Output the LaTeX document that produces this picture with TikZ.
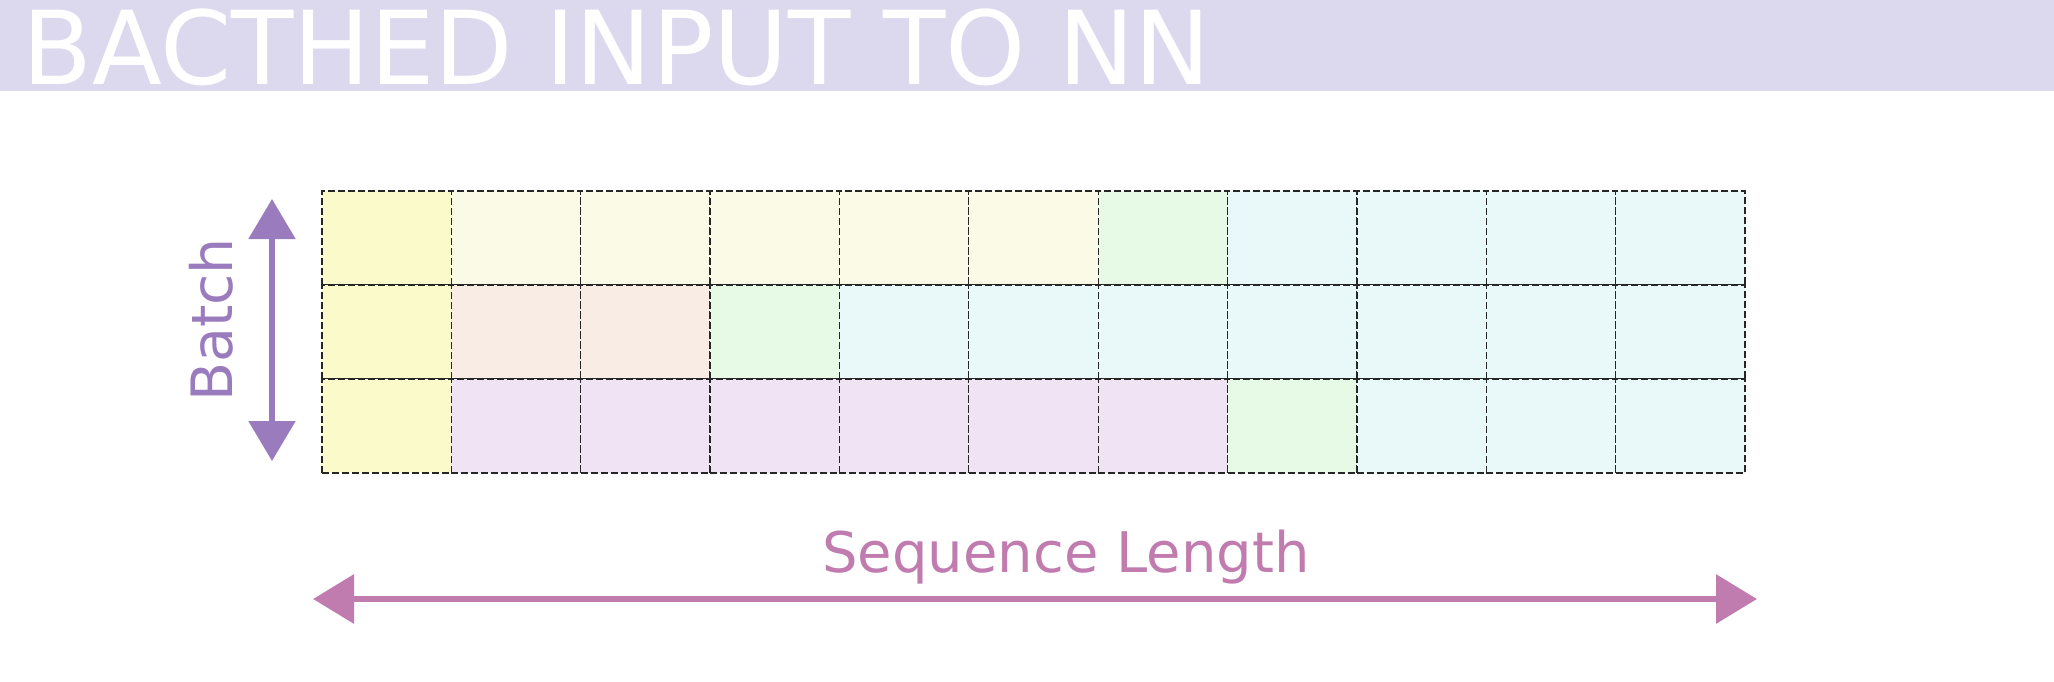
\documentclass[tikz,border=0pt]{standalone}
\usepackage{fontspec}
\setmainfont{DejaVu Sans}
\usetikzlibrary{arrows.meta}
\definecolor{titlebg}{RGB}{220,216,238}
\definecolor{ystrong}{RGB}{250,250,202}
\definecolor{ylight}{RGB}{250,250,230}
\definecolor{cgreen}{RGB}{230,250,230}
\definecolor{ccyan}{RGB}{233,248,248}
\definecolor{cpeach}{RGB}{248,236,228}
\definecolor{cpurple}{RGB}{240,227,243}
\definecolor{batchcol}{RGB}{154,123,189}
\definecolor{seqcol}{RGB}{192,123,175}
\tikzset{
  cell/.style={draw=black!85, dashed, dash pattern=on 7pt off 3pt, line width=1.3pt,
    minimum width=129.36pt, minimum height=94pt, inner sep=0pt, outer sep=0pt},
  batcharrow/.style={draw=batchcol, line width=5.5pt,
    {Triangle[length=40pt,width=46pt]}-{Triangle[length=40pt,width=46pt]}},
  seqarrow/.style={draw=seqcol, line width=6.5pt,
    {Triangle[length=41pt,width=48pt]}-{Triangle[length=41pt,width=48pt]}},
}
\begin{document}
\begin{tikzpicture}[x=1pt,y=-1pt]
\useasboundingbox (0,0) rectangle (2054,681);
\fill[titlebg] (0,0) rectangle (2054,91);
\node[anchor=base west, text=white, inner sep=0pt,
  font=\fontsize{102}{112}\selectfont] (title) at (22,84) {BACTHED INPUT TO NN};
% row 1
\foreach \c [count=\i] in {ystrong,ylight,ylight,ylight,ylight,ylight,cgreen,ccyan,ccyan,ccyan,ccyan}
  \node[cell, fill=\c] (r1c\i) at ({322+(\i-0.5)*129.36},238) {};
% row 2
\foreach \c [count=\i] in {ystrong,cpeach,cpeach,cgreen,ccyan,ccyan,ccyan,ccyan,ccyan,ccyan,ccyan}
  \node[cell, fill=\c] (r2c\i) at ({322+(\i-0.5)*129.36},332) {};
% row 3
\foreach \c [count=\i] in {ystrong,cpurple,cpurple,cpurple,cpurple,cpurple,cpurple,cgreen,ccyan,ccyan,ccyan}
  \node[cell, fill=\c] (r3c\i) at ({322+(\i-0.5)*129.36},426) {};
% batch arrow
\coordinate (btop) at (272,199);
\coordinate (bbot) at (272,461);
\draw[batcharrow] (btop) -- (bbot);
\node[rotate=90, anchor=base, text=batchcol, inner sep=0pt,
  font=\fontsize{57}{60}\selectfont] (batchlbl) at (232,320) {Batch};
% sequence arrow
\coordinate (sleft) at (313,599);
\coordinate (sright) at (1757,599);
\draw[seqarrow] (sleft) -- (sright);
\node[anchor=base, text=seqcol, inner sep=0pt,
  font=\fontsize{56}{60}\selectfont] (seqlbl) at (1066,572) {Sequence Length};
\end{tikzpicture}
\end{document}
